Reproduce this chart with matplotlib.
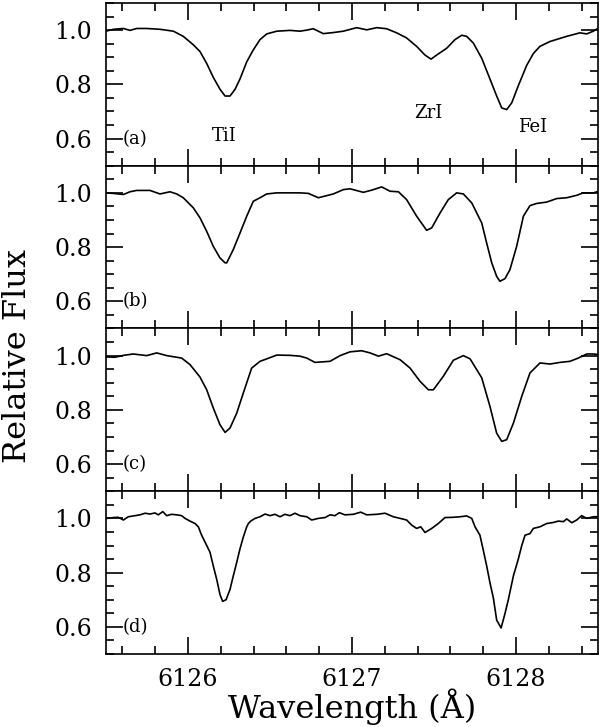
import matplotlib
matplotlib.use("Agg")
import matplotlib.pyplot as plt
from matplotlib.ticker import MultipleLocator, FixedLocator, FormatStrFormatter

plt.rcParams['font.family'] = ['DejaVu Serif']

# Panel (a)
wl_a = [6125.500, 6125.545, 6125.606, 6125.646, 6125.687, 6125.748, 6125.829, 6125.911,
        6125.971, 6126.032, 6126.073, 6126.114, 6126.154, 6126.195, 6126.226, 6126.256,
        6126.287, 6126.317, 6126.358, 6126.398, 6126.439, 6126.480, 6126.541, 6126.622,
        6126.683, 6126.724, 6126.764, 6126.825, 6126.886, 6126.947, 6127.028, 6127.090,
        6127.151, 6127.211, 6127.272, 6127.333, 6127.394, 6127.445, 6127.482, 6127.516,
        6127.577, 6127.628, 6127.669, 6127.699, 6127.740, 6127.791, 6127.841, 6127.882,
        6127.913, 6127.943, 6127.974, 6128.014, 6128.065, 6128.106, 6128.146, 6128.207,
        6128.309, 6128.390, 6128.431, 6128.471, 6128.498]
fx_a = [0.996, 1.003, 1.006, 0.999, 1.006, 1.006, 1.003, 0.996,
        0.977, 0.946, 0.921, 0.877, 0.826, 0.782, 0.757, 0.757,
        0.782, 0.820, 0.883, 0.927, 0.965, 0.986, 0.996, 0.999,
        0.996, 1.000, 1.005, 0.987, 0.991, 0.996, 1.009, 1.001,
        1.009, 1.005, 0.990, 0.971, 0.940, 0.908, 0.893, 0.908,
        0.933, 0.965, 0.981, 0.977, 0.952, 0.896, 0.820, 0.757,
        0.713, 0.707, 0.732, 0.795, 0.870, 0.914, 0.940, 0.958,
        0.977, 0.990, 0.986, 0.996, 1.006]

# Panel (b)
wl_b = [6125.504, 6125.545, 6125.606, 6125.646, 6125.687, 6125.768, 6125.829, 6125.890,
        6125.931, 6125.971, 6126.032, 6126.073, 6126.114, 6126.154, 6126.195, 6126.226,
        6126.236, 6126.276, 6126.317, 6126.358, 6126.398, 6126.439, 6126.480, 6126.541,
        6126.622, 6126.683, 6126.734, 6126.795, 6126.886, 6126.947, 6126.988, 6127.069,
        6127.120, 6127.181, 6127.232, 6127.283, 6127.333, 6127.394, 6127.455, 6127.486,
        6127.537, 6127.587, 6127.638, 6127.679, 6127.730, 6127.791, 6127.821, 6127.852,
        6127.882, 6127.902, 6127.933, 6127.963, 6128.004, 6128.045, 6128.085, 6128.126,
        6128.187, 6128.248, 6128.309, 6128.370, 6128.411, 6128.472, 6128.498]
fx_b = [1.000, 0.998, 0.994, 1.004, 1.009, 1.009, 0.996, 1.004,
        0.996, 0.982, 0.945, 0.908, 0.858, 0.803, 0.760, 0.742,
        0.742, 0.791, 0.852, 0.914, 0.969, 0.982, 0.996, 1.000,
        1.000, 1.000, 0.998, 0.982, 0.996, 1.012, 1.015, 1.002,
        1.010, 1.022, 1.006, 1.004, 0.975, 0.914, 0.862, 0.871,
        0.926, 0.975, 1.000, 0.996, 0.963, 0.889, 0.815, 0.742,
        0.692, 0.674, 0.684, 0.717, 0.803, 0.914, 0.953, 0.961,
        0.966, 0.979, 0.982, 0.991, 1.000, 1.000, 1.005]

# Panel (c)
wl_c = [6125.504, 6125.555, 6125.606, 6125.667, 6125.748, 6125.809, 6125.870, 6125.961,
        6126.012, 6126.073, 6126.114, 6126.154, 6126.195, 6126.226, 6126.256, 6126.297,
        6126.337, 6126.388, 6126.439, 6126.480, 6126.541, 6126.622, 6126.683, 6126.724,
        6126.774, 6126.866, 6126.927, 6126.988, 6127.059, 6127.110, 6127.161, 6127.211,
        6127.293, 6127.354, 6127.415, 6127.466, 6127.496, 6127.557, 6127.618, 6127.679,
        6127.720, 6127.791, 6127.841, 6127.882, 6127.913, 6127.943, 6127.984, 6128.035,
        6128.085, 6128.146, 6128.207, 6128.268, 6128.329, 6128.380, 6128.431, 6128.472,
        6128.498]
fx_c = [0.995, 0.994, 1.001, 1.006, 1.000, 1.010, 1.000, 0.991,
        0.967, 0.921, 0.874, 0.807, 0.745, 0.717, 0.733, 0.788,
        0.862, 0.954, 0.979, 0.988, 1.002, 1.001, 0.998, 0.991,
        0.975, 0.979, 1.000, 1.014, 1.018, 1.010, 0.998, 1.007,
        0.985, 0.954, 0.905, 0.874, 0.874, 0.924, 0.983, 1.000,
        0.988, 0.918, 0.813, 0.714, 0.684, 0.690, 0.751, 0.850,
        0.936, 0.973, 0.969, 0.975, 0.979, 0.991, 1.006, 1.006,
        1.004]

# Panel (d)
wl_d = [6125.504, 6125.545, 6125.575, 6125.606, 6125.636, 6125.667, 6125.707, 6125.738,
        6125.768, 6125.799, 6125.819, 6125.846, 6125.870, 6125.900, 6125.931, 6125.961,
        6125.982, 6126.012, 6126.043, 6126.063, 6126.083, 6126.114, 6126.134, 6126.154,
        6126.175, 6126.195, 6126.211, 6126.232, 6126.256, 6126.276, 6126.297, 6126.317,
        6126.337, 6126.358, 6126.368, 6126.382, 6126.409, 6126.439, 6126.470, 6126.500,
        6126.530, 6126.561, 6126.591, 6126.622, 6126.652, 6126.683, 6126.724, 6126.754,
        6126.795, 6126.835, 6126.866, 6126.896, 6126.923, 6126.957, 6127.008, 6127.053,
        6127.090, 6127.151, 6127.201, 6127.252, 6127.293, 6127.333, 6127.364, 6127.394,
        6127.419, 6127.445, 6127.486, 6127.526, 6127.567, 6127.618, 6127.659, 6127.699,
        6127.730, 6127.750, 6127.780, 6127.801, 6127.821, 6127.841, 6127.862, 6127.882,
        6127.909, 6127.933, 6127.953, 6127.984, 6128.014, 6128.035, 6128.055, 6128.085,
        6128.106, 6128.146, 6128.187, 6128.228, 6128.258, 6128.289, 6128.309, 6128.340,
        6128.370, 6128.400, 6128.431, 6128.472, 6128.498]
fx_d = [1.000, 1.003, 1.004, 0.994, 1.006, 1.009, 1.013, 1.019,
        1.016, 1.020, 1.013, 1.025, 1.010, 1.015, 1.013, 1.010,
        1.000, 0.990, 0.981, 0.969, 0.938, 0.900, 0.875, 0.825,
        0.775, 0.719, 0.694, 0.700, 0.738, 0.788, 0.838, 0.888,
        0.931, 0.969, 0.981, 0.990, 1.000, 1.006, 1.016, 1.010,
        1.015, 1.006, 1.015, 1.010, 1.019, 1.010, 1.006, 0.994,
        1.000, 1.003, 1.013, 1.010, 1.021, 1.013, 1.015, 1.023,
        1.013, 1.015, 1.019, 1.006, 1.000, 0.994, 0.975, 0.963,
        0.969, 0.948, 0.963, 0.981, 1.003, 1.004, 1.006, 1.009,
        1.000, 0.969, 0.938, 0.881, 0.825, 0.763, 0.706, 0.625,
        0.596, 0.650, 0.700, 0.788, 0.850, 0.900, 0.938, 0.944,
        0.963, 0.969, 0.981, 0.985, 0.990, 0.988, 0.998, 0.984,
        0.994, 1.010, 1.000, 1.006, 1.006]

panels = [(wl_a, fx_a, "(a)"), (wl_b, fx_b, "(b)"), (wl_c, fx_c, "(c)"), (wl_d, fx_d, "(d)")]

line_names = ["TiI", "ZrI", "FeI"]
line_wl = [6126.222, 6127.463, 6128.100]
line_fx = [0.610, 0.695, 0.643]

x_ticks = [6126, 6127, 6128]
y_ticks = [0.6, 0.8, 1.0]

fig = plt.figure(figsize=(6.0, 7.27), dpi=100)
axes = fig.subplots(4, 1, sharex=True)
fig.subplots_adjust(left=0.1767, right=0.9967, top=0.9959, bottom=0.1004, hspace=0)

for ax, (wl, fx, lab) in zip(axes, panels):
    ax.plot(wl, fx, color='black', lw=1.2)
    ax.set_xlim(6125.5, 6128.5)
    ax.set_ylim(0.5, 1.1)
    ax.xaxis.set_major_locator(FixedLocator(x_ticks))
    ax.xaxis.set_minor_locator(MultipleLocator(0.2))
    ax.yaxis.set_major_locator(FixedLocator(y_ticks))
    ax.yaxis.set_minor_locator(MultipleLocator(0.05))
    ax.yaxis.set_major_formatter(FormatStrFormatter('%.1f'))
    ax.tick_params(which='both', direction='in', top=True, right=True, width=1.2)
    ax.tick_params(which='major', length=12.5, labelsize=17, pad=10)
    ax.tick_params(which='minor', length=6)
    for s in ax.spines.values():
        s.set_linewidth(1.2)
    ax.text(6125.6, 0.6, lab, fontsize=13, ha='left', va='center')

for name, x, y in zip(line_names, line_wl, line_fx):
    axes[0].text(x, y, name, fontsize=13, ha='center', va='center')

fig.text(2 / 600, 1 - 356 / 727, "Relative Flux", rotation=90, fontsize=23,
         ha='left', va='center')
fig.text(352 / 600, 1 - 707 / 727, "Wavelength (Å)", fontsize=23, ha='center', va='center')

fig.savefig("out.png", dpi=100)
